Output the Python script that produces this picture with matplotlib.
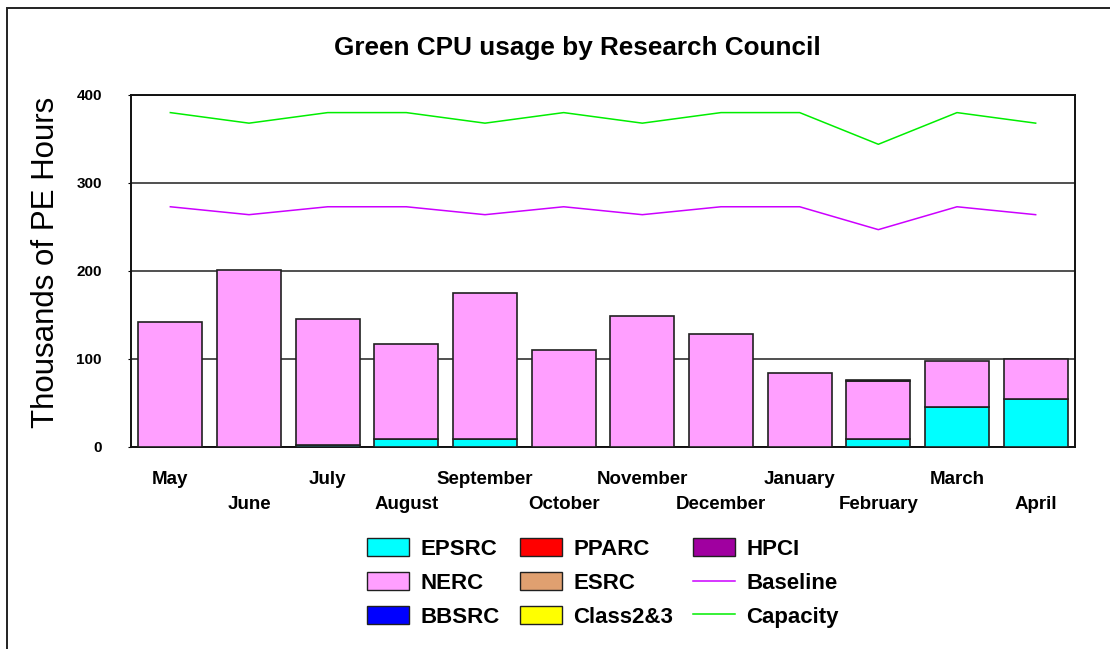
import matplotlib
matplotlib.use("Agg")
import matplotlib.pyplot as plt
from matplotlib.patches import Patch, Rectangle
from matplotlib.lines import Line2D
import numpy as np

plt.rcParams['font.family'] = ['Liberation Sans', 'DejaVu Sans']

months = ["May", "June", "July", "August", "September", "October",
          "November", "December", "January", "February", "March", "April"]

# thousands of PE hours per council
epsrc = [0, 0, 2, 9, 9, 0, 0, 0, 0, 9, 45, 54]
nerc = [142, 201, 143.5, 108, 166, 110, 149, 128, 84, 66, 53, 46]
bbsrc = [0] * 12
pparc = [0] * 12
esrc = [0] * 12
class23 = [0] * 12
hpci = [0, 0, 0, 0, 0, 0, 0, 0, 0, 1, 0, 0]

baseline = [273, 264, 273, 273, 264, 273, 264, 273, 273, 247, 273, 264]
capacity = [380, 368, 380, 380, 368, 380, 368, 380, 380, 344, 380, 368]

series = [
    ("EPSRC", epsrc, "#00ffff"),
    ("NERC", nerc, "#ff9fff"),
    ("BBSRC", bbsrc, "#0000ff"),
    ("PPARC", pparc, "#ff0000"),
    ("ESRC", esrc, "#e0a070"),
    ("Class2&3", class23, "#ffff00"),
    ("HPCI", hpci, "#a000a0"),
]

W, H = 1110, 649
fig = plt.figure(figsize=(W / 100, H / 100), dpi=100)
ax = fig.add_axes([131 / W, 1 - 447 / H, 944 / W, 352 / H])

x = np.arange(len(months))
bottom = np.zeros(len(months))
for name, vals, col in series:
    vals = np.array(vals, dtype=float)
    mask = vals > 0
    ax.bar(x[mask], vals[mask], 0.81, bottom=bottom[mask], color=col,
           edgecolor="#202020", linewidth=1.2, zorder=3)
    bottom += vals

ax.plot(x, baseline, color="#cc00ff", lw=1.1, zorder=4)
ax.plot(x, capacity, color="#00ee00", lw=1.1, zorder=4)

ax.set_xlim(-0.5, len(months) - 0.5)
ax.set_ylim(0, 400)
ax.set_yticks([0, 100, 200, 300, 400])
ax.yaxis.grid(True, color="#202020", lw=1.1, zorder=1)
ax.tick_params(axis="y", length=2, pad=19, labelsize=11)
for lab in ax.get_yticklabels():
    lab.set_fontweight("bold")

ax.set_xticks(x)
ax.set_xticklabels(months, fontsize=13.5, fontweight="bold")
ax.tick_params(axis="x", length=0)
for i, tick in enumerate(ax.xaxis.get_major_ticks()):
    tick.set_pad(17.5 if i % 2 == 0 else 35)

for sp in ax.spines.values():
    sp.set_linewidth(1.4)
    sp.set_color("#111111")

fig.text(46 / W, 1 - 262 / H, "Thousands of PE Hours", rotation=90,
         ha="center", va="center", fontsize=22.5)
fig.text(577 / W, 1 - 48 / H, "Green CPU usage by Research Council",
         ha="center", va="center", fontsize=18.8, fontweight="bold")

handles = [Patch(facecolor=c, edgecolor="#202020", lw=1.0, label=n)
           for n, _, c in series]
handles.append(Line2D([], [], color="#cc00ff", lw=1.1, label="Baseline"))
handles.append(Line2D([], [], color="#00ee00", lw=1.1, label="Capacity"))
leg = fig.legend(handles=handles, ncol=3, loc="center",
                 bbox_to_anchor=(603 / W, 1 - 583 / H), frameon=False,
                 prop={"weight": "bold", "size": 16},
                 handlelength=1.9, handleheight=0.85, handletextpad=0.5,
                 columnspacing=0.9, labelspacing=0.55)

# outer frame around the whole chart
fig.patches.append(Rectangle((7 / W, -0.1), 1.2, 1 - 8 / H + 0.1,
                             transform=fig.transFigure, fill=False,
                             edgecolor="#222222", lw=1.4))

fig.savefig("out.png", dpi=100)
